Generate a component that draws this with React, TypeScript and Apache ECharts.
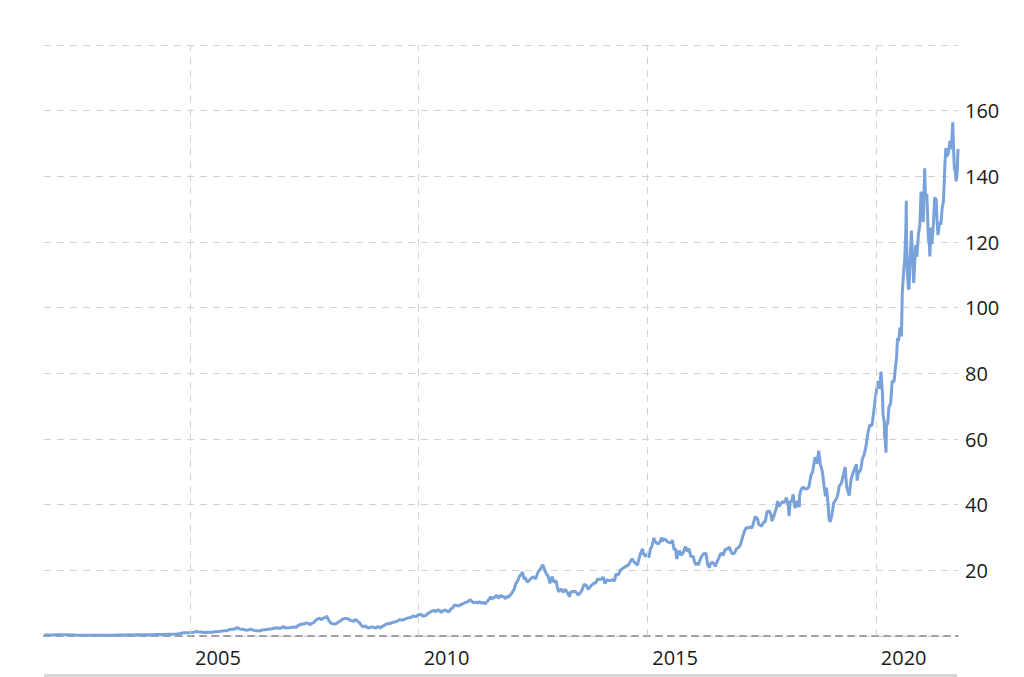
import React, { useEffect, useRef } from "react";
import * as echarts from "echarts";

// [date, dividend-adjusted close]
const prices2001to2004: [string, number][] = [
  ["2001-10-22", 0.28], ["2001-11-01", 0.29], ["2001-11-15", 0.32], ["2001-12-03", 0.33], ["2001-12-17", 0.33],
  ["2002-01-02", 0.34], ["2002-02-01", 0.36], ["2002-03-01", 0.36], ["2002-04-01", 0.38], ["2002-05-01", 0.36],
  ["2002-06-03", 0.32], ["2002-07-01", 0.27], ["2002-08-01", 0.23], ["2002-09-03", 0.23], ["2002-10-01", 0.23],
  ["2002-11-01", 0.25], ["2002-12-02", 0.24],
  ["2003-01-02", 0.23], ["2003-02-03", 0.23], ["2003-03-03", 0.23], ["2003-04-01", 0.22], ["2003-05-01", 0.26],
  ["2003-06-02", 0.3], ["2003-07-01", 0.3], ["2003-08-01", 0.33], ["2003-09-02", 0.35], ["2003-10-01", 0.33],
  ["2003-11-03", 0.37], ["2003-12-01", 0.35],
  ["2004-01-02", 0.35], ["2004-02-02", 0.38], ["2004-03-01", 0.39], ["2004-04-01", 0.42], ["2004-05-03", 0.44],
  ["2004-06-01", 0.47], ["2004-07-01", 0.51], ["2004-08-02", 0.52], ["2004-09-01", 0.57], ["2004-10-01", 0.65],
  ["2004-10-15", 0.76], ["2004-11-01", 0.9], ["2004-11-15", 0.96], ["2004-12-01", 0.98], ["2004-12-15", 0.96],
];

const prices2005to2009: [string, number][] = [
  ["2005-01-03", 1.03], ["2005-01-18", 1.1], ["2005-02-01", 1.16], ["2005-02-15", 1.35], ["2005-03-01", 1.27],
  ["2005-03-15", 1.22], ["2005-04-01", 1.25], ["2005-04-15", 1.08], ["2005-05-02", 1.07], ["2005-05-16", 1.15],
  ["2005-06-01", 1.18], ["2005-06-15", 1.18], ["2005-07-01", 1.15], ["2005-07-15", 1.29], ["2005-08-01", 1.28],
  ["2005-08-15", 1.4], ["2005-09-01", 1.4], ["2005-09-15", 1.55], ["2005-10-03", 1.62], ["2005-10-17", 1.58],
  ["2005-11-01", 1.77], ["2005-11-15", 1.98], ["2005-12-01", 2.09], ["2005-12-15", 2.08],
  ["2006-01-03", 2.29], ["2006-01-13", 2.6], ["2006-02-01", 2.17], ["2006-02-15", 2.02], ["2006-03-01", 2.09],
  ["2006-03-15", 1.85], ["2006-04-03", 1.78], ["2006-04-17", 1.89], ["2006-05-01", 2.06], ["2006-05-15", 1.84],
  ["2006-06-01", 1.71], ["2006-06-15", 1.61], ["2006-07-03", 1.58], ["2006-07-14", 1.53], ["2006-08-01", 1.84],
  ["2006-08-15", 1.88], ["2006-09-01", 1.95], ["2006-09-15", 2.04], ["2006-10-02", 2.17], ["2006-10-16", 2.17],
  ["2006-11-01", 2.34], ["2006-11-15", 2.45], ["2006-12-01", 2.48], ["2006-12-15", 2.33],
  ["2007-01-03", 2.53], ["2007-01-16", 2.9], ["2007-02-01", 2.41], ["2007-02-15", 2.54], ["2007-03-01", 2.52],
  ["2007-03-15", 2.56], ["2007-04-02", 2.68], ["2007-04-16", 2.75], ["2007-05-01", 2.69], ["2007-05-15", 3.25],
  ["2007-06-01", 3.5], ["2007-06-15", 3.65], ["2007-07-02", 3.64], ["2007-07-16", 3.97], ["2007-08-01", 3.92],
  ["2007-08-15", 3.47], ["2007-09-04", 3.91], ["2007-09-17", 4.06], ["2007-10-01", 4.79], ["2007-10-15", 5.15],
  ["2007-11-01", 5.42], ["2007-11-15", 4.96], ["2007-12-03", 5.51], ["2007-12-17", 5.6], ["2007-12-27", 5.99],
  ["2008-01-02", 5.72], ["2008-01-15", 4.68], ["2008-02-01", 3.87], ["2008-02-15", 3.74], ["2008-03-03", 3.65],
  ["2008-03-17", 3.83], ["2008-04-01", 4.29], ["2008-04-15", 4.51], ["2008-05-01", 5.09], ["2008-05-15", 5.33],
  ["2008-06-02", 5.32], ["2008-06-16", 5.21], ["2008-07-01", 4.87], ["2008-07-15", 4.64], ["2008-08-01", 4.51],
  ["2008-08-15", 5.07], ["2008-09-02", 4.47], ["2008-09-15", 4.05], ["2008-10-01", 3.25], ["2008-10-15", 2.83],
  ["2008-11-03", 3.07], ["2008-11-20", 2.42], ["2008-12-01", 2.49], ["2008-12-15", 2.72],
  ["2009-01-02", 2.75], ["2009-01-20", 2.38], ["2009-02-02", 2.73], ["2009-02-17", 2.84], ["2009-03-02", 2.41],
  ["2009-03-16", 2.9], ["2009-04-01", 3.25], ["2009-04-15", 3.56], ["2009-05-01", 3.83], ["2009-05-15", 3.72],
  ["2009-06-01", 4.07], ["2009-06-15", 4.2], ["2009-07-01", 4.35], ["2009-07-15", 4.55], ["2009-08-03", 4.98],
  ["2009-08-17", 4.88], ["2009-09-01", 4.87], ["2009-09-15", 5.21], ["2009-10-01", 5.36], ["2009-10-15", 5.59],
  ["2009-11-02", 5.65], ["2009-11-16", 6.11], ["2009-12-01", 5.95], ["2009-12-15", 5.91], ["2009-12-28", 6.49],
];

const prices2010to2014: [string, number][] = [
  ["2010-01-04", 6.47], ["2010-01-19", 6.64], ["2010-02-01", 6.06], ["2010-02-16", 6.15], ["2010-03-01", 6.32],
  ["2010-03-15", 6.85], ["2010-04-01", 7.19], ["2010-04-15", 7.59], ["2010-05-03", 7.82], ["2010-05-14", 7.37],
  ["2010-06-01", 7.92], ["2010-06-15", 7.86], ["2010-07-01", 7.19], ["2010-07-15", 7.7], ["2010-08-02", 7.92],
  ["2010-08-16", 7.57], ["2010-08-31", 7.31], ["2010-09-15", 8.26], ["2010-10-01", 8.62], ["2010-10-15", 9.42],
  ["2010-11-01", 9.31], ["2010-11-15", 9.12], ["2010-12-01", 9.51], ["2010-12-15", 9.69],
  ["2011-01-03", 10.11], ["2011-01-18", 10.27], ["2011-02-01", 10.54], ["2011-02-16", 11.04], ["2011-03-01", 10.68],
  ["2011-03-16", 10.04], ["2011-04-01", 10.36], ["2011-04-18", 9.96], ["2011-05-02", 10.48], ["2011-05-16", 10.04],
  ["2011-06-01", 10.19], ["2011-06-15", 9.8], ["2011-07-01", 10.42], ["2011-07-15", 11.05], ["2011-08-01", 12.0],
  ["2011-08-09", 11.07], ["2011-08-15", 11.51], ["2011-09-01", 11.85], ["2011-09-15", 12.36], ["2011-10-03", 11.52],
  ["2011-10-17", 12.36], ["2011-11-01", 12.02], ["2011-11-15", 11.89], ["2011-11-25", 11.3], ["2011-12-01", 11.96],
  ["2011-12-15", 11.77],
  ["2012-01-03", 12.53], ["2012-01-17", 13.02], ["2012-01-25", 13.76], ["2012-02-01", 14.02], ["2012-02-15", 15.83],
  ["2012-03-01", 16.69], ["2012-03-15", 18.09], ["2012-04-02", 19.02], ["2012-04-10", 19.48], ["2012-04-23", 17.21],
  ["2012-05-01", 17.85], ["2012-05-18", 16.37], ["2012-06-01", 16.89], ["2012-06-15", 17.46], ["2012-07-02", 18.05],
  ["2012-07-16", 17.69], ["2012-07-25", 17.38], ["2012-08-01", 18.39], ["2012-08-15", 19.67], ["2012-08-31", 20.44],
  ["2012-09-14", 21.4], ["2012-09-19", 21.68], ["2012-10-01", 20.4], ["2012-10-15", 19.11], ["2012-11-01", 18.09],
  ["2012-11-15", 16.06], ["2012-12-03", 18.09], ["2012-12-17", 16.35],
  ["2013-01-02", 16.9], ["2013-01-15", 14.47], ["2013-01-25", 13.43], ["2013-02-01", 14.16], ["2013-02-15", 14.14],
  ["2013-03-01", 13.28], ["2013-03-15", 14.25], ["2013-04-01", 13.42], ["2013-04-19", 11.96], ["2013-05-01", 13.41],
  ["2013-05-15", 13.56], ["2013-06-03", 13.55], ["2013-06-17", 13.15], ["2013-06-28", 12.39], ["2013-07-15", 13.09],
  ["2013-08-01", 14.2], ["2013-08-15", 15.75], ["2013-09-03", 15.36], ["2013-09-16", 14.2], ["2013-10-01", 14.9],
  ["2013-10-15", 15.51], ["2013-11-01", 16.15], ["2013-11-15", 16.1], ["2013-12-02", 17.43], ["2013-12-16", 17.16],
  ["2014-01-02", 17.38], ["2014-01-15", 17.94], ["2014-01-28", 15.96], ["2014-02-14", 17.15], ["2014-03-03", 16.85],
  ["2014-03-17", 16.96], ["2014-04-01", 17.14], ["2014-04-15", 16.74], ["2014-04-24", 18.62], ["2014-05-01", 18.78],
  ["2014-05-15", 18.59], ["2014-06-02", 20.11], ["2014-06-16", 20.54], ["2014-07-01", 20.86], ["2014-07-15", 21.26],
  ["2014-08-01", 21.48], ["2014-08-15", 22.4], ["2014-09-02", 23.54], ["2014-09-16", 22.67], ["2014-10-01", 22.11],
  ["2014-10-15", 21.59], ["2014-11-03", 24.48], ["2014-11-17", 25.9], ["2014-11-25", 26.52], ["2014-12-01", 25.27],
  ["2014-12-15", 24.3],
];

const prices2015to2019: [string, number][] = [
  ["2015-01-02", 24.82], ["2015-01-15", 23.91], ["2015-01-28", 26.89], ["2015-02-02", 26.6], ["2015-02-17", 28.75],
  ["2015-02-23", 29.86], ["2015-03-02", 29.1], ["2015-03-16", 28.29], ["2015-04-01", 28.04], ["2015-04-15", 28.79],
  ["2015-04-27", 30.01], ["2015-05-01", 28.85], ["2015-05-15", 29.51], ["2015-06-01", 29.24], ["2015-06-15", 28.6],
  ["2015-07-01", 28.43], ["2015-07-15", 28.52], ["2015-07-21", 29.23], ["2015-08-03", 26.31], ["2015-08-17", 26.51],
  ["2015-08-24", 23.47], ["2015-09-01", 24.46], ["2015-09-15", 26.0], ["2015-10-01", 24.63], ["2015-10-15", 25.32],
  ["2015-11-02", 27.24], ["2015-11-16", 25.79], ["2015-12-01", 26.6], ["2015-12-15", 24.19],
  ["2016-01-04", 24.23], ["2016-01-15", 22.38], ["2016-01-27", 21.63], ["2016-02-01", 22.42], ["2016-02-12", 21.59],
  ["2016-03-01", 23.45], ["2016-03-15", 24.58], ["2016-04-01", 25.19], ["2016-04-15", 25.05], ["2016-04-28", 21.78],
  ["2016-05-12", 20.76], ["2016-05-16", 21.64], ["2016-06-01", 22.53], ["2016-06-15", 22.11], ["2016-06-27", 21.22],
  ["2016-07-15", 22.89], ["2016-07-27", 23.76], ["2016-08-01", 24.4], ["2016-08-15", 25.28], ["2016-09-01", 24.62],
  ["2016-09-15", 26.44], ["2016-10-03", 26.41], ["2016-10-17", 27.14], ["2016-11-01", 25.74], ["2016-11-14", 24.91],
  ["2016-12-01", 25.44], ["2016-12-15", 26.63],
  ["2017-01-03", 27.05], ["2017-01-17", 28.01], ["2017-02-01", 30.15], ["2017-02-15", 31.78], ["2017-03-01", 32.95],
  ["2017-03-15", 32.94], ["2017-04-03", 33.19], ["2017-04-17", 32.85], ["2017-05-01", 34.68], ["2017-05-12", 36.39],
  ["2017-06-01", 35.71], ["2017-06-09", 34.08], ["2017-06-15", 33.88], ["2017-07-03", 33.47], ["2017-07-17", 34.64],
  ["2017-08-01", 34.8], ["2017-08-15", 37.77], ["2017-09-01", 38.12], ["2017-09-15", 37.1], ["2017-09-25", 34.99],
  ["2017-10-02", 35.9], ["2017-10-16", 37.34], ["2017-11-01", 39.44], ["2017-11-08", 41.13], ["2017-11-15", 39.52],
  ["2017-12-01", 40.03], ["2017-12-15", 40.93],
  ["2018-01-02", 40.65], ["2018-01-18", 42.17], ["2018-02-01", 39.52], ["2018-02-08", 36.52], ["2018-02-15", 40.78],
  ["2018-03-01", 41.19], ["2018-03-12", 43.15], ["2018-03-23", 39.41], ["2018-04-02", 39.18], ["2018-04-16", 41.2],
  ["2018-04-30", 39.28], ["2018-05-02", 42.66], ["2018-05-15", 44.69], ["2018-06-01", 45.33], ["2018-06-15", 44.78],
  ["2018-07-02", 44.81], ["2018-07-16", 45.48], ["2018-08-01", 48.9], ["2018-08-15", 50.09], ["2018-09-04", 54.51],
  ["2018-09-17", 52.45], ["2018-10-03", 56.4], ["2018-10-15", 52.28], ["2018-10-29", 50.5], ["2018-11-02", 49.6],
  ["2018-11-15", 45.38], ["2018-11-26", 42.56], ["2018-12-03", 45.21], ["2018-12-17", 39.84], ["2018-12-24", 35.45],
  ["2019-01-03", 34.77], ["2019-01-16", 37.06], ["2019-01-30", 40.56], ["2019-02-15", 41.44], ["2019-03-01", 42.53],
  ["2019-03-15", 45.62], ["2019-04-01", 46.51], ["2019-04-15", 48.67], ["2019-05-01", 51.44], ["2019-05-13", 45.54],
  ["2019-06-03", 42.78], ["2019-06-17", 47.53], ["2019-07-01", 49.41], ["2019-07-15", 50.82], ["2019-07-31", 52.26],
  ["2019-08-05", 47.33], ["2019-08-15", 49.68], ["2019-09-03", 50.67], ["2019-09-16", 53.94], ["2019-10-01", 55.37],
  ["2019-10-15", 57.81], ["2019-11-01", 62.19], ["2019-11-15", 64.27], ["2019-12-02", 64.09], ["2019-12-16", 68.39],
  ["2019-12-27", 71.78],
];

const prices2020to2021: [string, number][] = [
  ["2020-01-02", 73.56], ["2020-01-17", 77.63], ["2020-01-27", 75.35], ["2020-02-03", 76.33], ["2020-02-12", 80.51],
  ["2020-02-24", 73.39], ["2020-02-28", 67.34], ["2020-03-09", 65.29], ["2020-03-12", 60.58], ["2020-03-16", 59.61],
  ["2020-03-23", 55.87], ["2020-03-26", 63.91], ["2020-04-06", 64.89], ["2020-04-15", 69.6], ["2020-04-29", 70.91],
  ["2020-05-11", 77.58], ["2020-05-26", 77.4], ["2020-06-08", 82.36], ["2020-06-15", 84.71], ["2020-06-23", 90.71],
  ["2020-07-01", 89.76], ["2020-07-13", 93.96], ["2020-07-24", 91.26], ["2020-07-31", 104.66], ["2020-08-12", 111.9],
  ["2020-08-19", 114.47], ["2020-08-28", 123.41], ["2020-09-01", 132.59], ["2020-09-03", 119.47], ["2020-09-08", 111.5],
  ["2020-09-18", 105.82], ["2020-09-23", 105.65], ["2020-10-01", 115.27], ["2020-10-12", 123.46], ["2020-10-20", 116.21],
  ["2020-10-30", 107.57], ["2020-11-09", 114.8], ["2020-11-16", 119.15], ["2020-11-25", 115.57], ["2020-12-07", 122.45],
  ["2020-12-18", 125.1], ["2020-12-28", 135.37],
  ["2021-01-04", 128.62], ["2021-01-15", 126.19], ["2021-01-26", 142.43], ["2021-02-01", 133.33], ["2021-02-12", 134.64],
  ["2021-02-25", 120.34], ["2021-03-04", 119.4], ["2021-03-08", 115.63], ["2021-03-16", 124.37], ["2021-03-24", 119.33],
  ["2021-04-05", 125.13], ["2021-04-16", 133.58], ["2021-04-28", 132.78], ["2021-05-04", 126.88], ["2021-05-12", 122.12],
  ["2021-05-25", 126.05], ["2021-06-04", 125.26], ["2021-06-14", 130.16], ["2021-06-25", 132.47], ["2021-07-07", 144.11],
  ["2021-07-14", 148.59], ["2021-07-20", 146.02], ["2021-08-03", 147.02], ["2021-08-16", 150.86], ["2021-08-27", 148.24],
  ["2021-09-07", 156.45], ["2021-09-14", 148.01], ["2021-09-20", 142.45], ["2021-09-28", 141.44], ["2021-10-04", 138.48],
  ["2021-10-12", 140.84], ["2021-10-19", 148.37],
];

const yearTicks = [2005, 2010, 2015, 2020];
const yMin = 0;
const yMax = 180;
const yStep = 20;

const allPrices = [
  ...prices2001to2004,
  ...prices2005to2009,
  ...prices2010to2014,
  ...prices2015to2019,
  ...prices2020to2021,
];

const FONT = "'Open Sans', 'DejaVu Sans', sans-serif";

const toTime = (d: string) => {
  const [y, m, day] = d.split("-").map(Number);
  return Date.UTC(y, m - 1, day);
};

export default function App() {
  const ref = useRef<HTMLDivElement>(null);

  useEffect(() => {
    if (!ref.current) return;
    const chart = echarts.init(ref.current, undefined, { renderer: "svg" });
    const seriesData = allPrices.map(([d, v]) => [toTime(d), v]);
    const tickTimes = yearTicks.map((y) => Date.UTC(y, 0, 1));
    const dash = [7, 6];
    const gridColor = "#d2d2d2";
    chart.setOption({
      animation: false,
      backgroundColor: "#ffffff",
      grid: { left: 44, right: 66, top: 45, bottom: 41, containLabel: false },
      xAxis: {
        type: "value",
        min: seriesData[0][0],
        max: seriesData[seriesData.length - 1][0],
        scale: true,
        axisLine: { show: true, onZero: false, lineStyle: { color: "#a0a0a0", width: 2, type: [6, 6] } },
        axisTick: { show: false, customValues: tickTimes },
        splitLine: { show: false },
        axisLabel: {
          customValues: tickTimes,
          formatter: (v: number) => String(new Date(v).getUTCFullYear()),
          align: "left",
          padding: [0, 0, 0, 5],
          margin: 11,
          fontSize: 20,
          fontFamily: FONT,
          color: "#1a1a1a",
        },
      },
      yAxis: {
        type: "value",
        position: "right",
        min: yMin,
        max: yMax,
        interval: yStep,
        axisLine: { show: false },
        axisTick: { show: false },
        splitLine: { show: true, lineStyle: { color: gridColor, width: 1, type: dash } },
        axisLabel: {
          formatter: (v: number) => (v === yMin || v === yMax ? "" : String(v)),
          margin: 7,
          fontSize: 20,
          fontFamily: FONT,
          color: "#1a1a1a",
        },
      },
      series: [
        {
          type: "line",
          data: [],
          z: 1,
          markLine: {
            silent: true,
            symbol: "none",
            label: { show: false },
            lineStyle: { color: gridColor, width: 1, type: dash },
            data: tickTimes.map((t) => ({ xAxis: t })),
          },
        },
        {
          type: "line",
          data: seriesData,
          z: 3,
          showSymbol: false,
          symbol: "none",
          lineStyle: { color: "#78a2d9", width: 3 },
          itemStyle: { color: "#78a2d9" },
        },
      ],
      graphic: [
        {
          type: "rect",
          shape: { x: 44, y: 674, width: 913, height: 3 },
          style: { fill: "#d6d6d6" },
          silent: true,
        },
      ],
    });
    return () => chart.dispose();
  }, []);

  return (
    <div
      ref={ref}
      style={{ position: "absolute", left: 0, top: 0, width: 1024, height: 677, background: "#fff" }}
    />
  );
}
